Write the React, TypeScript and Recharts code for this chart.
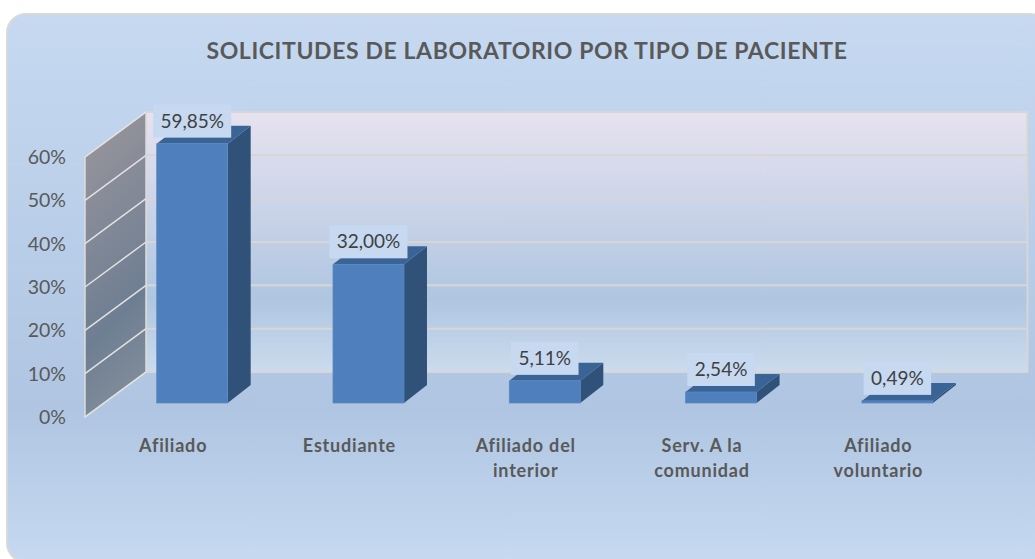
import { BarChart, Bar, XAxis, YAxis, CartesianGrid, LabelList } from 'recharts';

const CATEGORIES = ['Afiliado', 'Estudiante', 'Afiliado del\ninterior', 'Serv. A la\ncomunidad', 'Afiliado\nvoluntario'];
const VALUES = [59.85, 32.0, 5.11, 2.54, 0.49];
const Y_TICKS = [0, 10, 20, 30, 40, 50, 60];
const TITLE = 'SOLICITUDES DE LABORATORIO POR TIPO DE PACIENTE';

const data = CATEGORIES.map((name, i) => ({ name, value: VALUES[i] }));

const FONT = 'Lato, sans-serif';
const W = 1035;
const H = 559;
const MARGIN = { top: 157, right: 68.5, bottom: 42, left: 25 };
const AXIS_W = 60;
const AXIS_H = 100;
const PLOT_LEFT = MARGIN.left + AXIS_W;
const PLOT_RIGHT = W - MARGIN.right;
const PLOT_TOP = MARGIN.top;
const PLOT_BOTTOM = H - MARGIN.bottom - AXIS_H;

// back wall offset of the 3d box, and offset of the bars inside it
const WALL_DX = 61;
const WALL_DY = -45;
const BAR_DX = 18.8;
const BAR_DY = -14;
const DEPTH_X = 23;
const DEPTH_Y = -18;

const fmt = (v: number) => `${v.toFixed(2).replace('.', ',')}%`;

// sits in its own svg under the chart so the grid lines land on top of it
const Walls = () => (
  <svg width={W} height={H} style={{ position: 'absolute', left: 0, top: 0 }}>
    <defs>
      <linearGradient id="backWall" x1="0" y1="0" x2="0" y2="1">
        <stop offset="0" stopColor="#e7e2ef" />
        <stop offset="0.72" stopColor="#afc6e1" />
        <stop offset="1" stopColor="#ccdbed" />
      </linearGradient>
      <linearGradient id="sideWall" x1="0" y1="0" x2="0.2" y2="1">
        <stop offset="0" stopColor="#9c979d" />
        <stop offset="0.75" stopColor="#6e7e92" />
        <stop offset="1" stopColor="#7f8b99" />
      </linearGradient>
    </defs>
    <rect
      x={PLOT_LEFT + WALL_DX}
      y={PLOT_TOP + WALL_DY}
      width={PLOT_RIGHT - PLOT_LEFT}
      height={PLOT_BOTTOM - PLOT_TOP}
      fill="url(#backWall)"
      stroke="#d6d6d6"
      strokeWidth={2}
    />
    <polygon
      points={`${PLOT_LEFT},${PLOT_TOP} ${PLOT_LEFT + WALL_DX},${PLOT_TOP + WALL_DY} ${PLOT_LEFT + WALL_DX},${PLOT_BOTTOM + WALL_DY} ${PLOT_LEFT},${PLOT_BOTTOM}`}
      fill="url(#sideWall)"
      stroke="#dcdcdc"
      strokeWidth={1.5}
    />
  </svg>
);

// each value line runs along the side wall, then across the back wall
const WallLine = ({ y1 }: any) => (
  <g key={y1}>
    <line x1={PLOT_LEFT} y1={y1} x2={PLOT_LEFT + WALL_DX} y2={y1 + WALL_DY} stroke="#e2e2e2" strokeWidth={1.5} />
    <line x1={PLOT_LEFT + WALL_DX} y1={y1 + WALL_DY} x2={PLOT_RIGHT + WALL_DX} y2={y1 + WALL_DY} stroke="#d6d6d6" strokeWidth={2} />
  </g>
);

const Bar3D = ({ x, y, width, height }: any) => {
  const fx = x + BAR_DX;
  const fy = y + BAR_DY;
  const r = fx + width;
  const b = fy + height;
  return (
    <g>
      <polygon points={`${r},${fy} ${r + DEPTH_X},${fy + DEPTH_Y} ${r + DEPTH_X},${b + DEPTH_Y} ${r},${b}`} fill="#305279" />
      <polygon points={`${fx},${fy} ${fx + DEPTH_X},${fy + DEPTH_Y} ${r + DEPTH_X},${fy + DEPTH_Y} ${r},${fy}`} fill="#3a6396" />
      <rect x={fx} y={fy} width={width} height={height} fill="#4f80bd" stroke="#5a88c2" strokeWidth={0.75} />
    </g>
  );
};

const ValueLabel = ({ x, y, width, value }: any) => {
  const text = fmt(value);
  const boxW = text.length * 10.5 + 15;
  const cx = x + BAR_DX + width / 2;
  const top = y + BAR_DY - 39;
  return (
    <g>
      <rect x={cx - boxW / 2} y={top} width={boxW} height={33} fill="#c6d9f1" />
      <text x={cx} y={top + 23} textAnchor="middle" fontFamily={FONT} fontSize={19} fill="#404040">
        {text}
      </text>
    </g>
  );
};

const CategoryTick = ({ x, y, payload }: any) => (
  <text x={x} textAnchor="middle" fontFamily={FONT} fontSize={18} fontWeight={700} letterSpacing={0.8} fill="#595959">
    {String(payload.value).split('\n').map((line, i) => (
      <tspan key={line} x={x} y={y + 27 + i * 25}>{line}</tspan>
    ))}
  </text>
);

export default function App() {
  return (
    <div style={{ position: 'absolute', left: 0, top: 0, width: W, height: H, overflow: 'hidden', background: '#fff' }}>
      <div
        style={{
          position: 'absolute',
          left: 6,
          top: 13,
          width: 1044,
          height: 550,
          boxSizing: 'border-box',
          borderRadius: 20,
          border: '2px solid #d9d9d9',
          background: 'linear-gradient(180deg, #c6d9f1 0%, #afc5e1 72%, #c6d9f1 100%)',
        }}
      />
      <Walls />
      <div style={{ position: 'absolute', left: 0, top: 0 }}>
        <BarChart width={W} height={H} data={data} margin={MARGIN} barCategoryGap="30%">
          <CartesianGrid vertical={false} horizontal={WallLine} />
          <XAxis dataKey="name" height={AXIS_H} axisLine={false} tickLine={false} tick={<CategoryTick />} interval={0} />
          <YAxis
            width={AXIS_W}
            domain={[0, 60]}
            ticks={Y_TICKS}
            axisLine={false}
            tickLine={false}
            tickMargin={13}
            tickFormatter={(v: number) => `${v}%`}
            tick={{ fontFamily: FONT, fontSize: 19.5, fill: '#595959' }}
          />
          <Bar dataKey="value" shape={<Bar3D />} isAnimationActive={false}>
            <LabelList dataKey="value" content={<ValueLabel />} />
          </Bar>
          <text x={527} y={59} textAnchor="middle" fontFamily={FONT} fontSize={23} fontWeight={700} letterSpacing={0.6} fill="#595959">
            {TITLE}
          </text>
        </BarChart>
      </div>
    </div>
  );
}
